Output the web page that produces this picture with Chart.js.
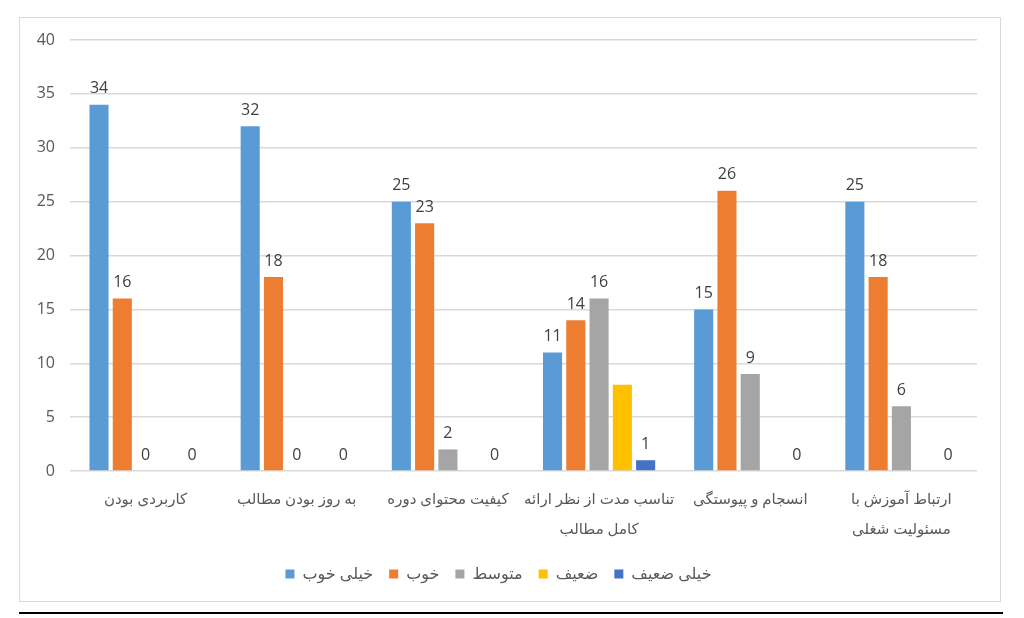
<!DOCTYPE html>
<html>
<head>
<meta charset="utf-8">
<script src="https://cdn.jsdelivr.net/npm/chart.js@4/dist/chart.umd.min.js"></script>
<style>
  html, body { margin: 0; padding: 0; background: #ffffff; }
  #wrap { position: relative; width: 1024px; height: 618px; }
</style>
</head>
<body>
<div id="wrap"><canvas id="surveyChart"></canvas></div>
<script>
const categories = [
    'کاربردی بودن',
    'به روز بودن مطالب',
    'کیفیت محتوای دوره',
    ['تناسب مدت از نظر ارائه', 'کامل مطالب'],
    'انسجام و پیوستگی',
    ['ارتباط آموزش با', 'مسئولیت شغلی']
];
const seriesNames = ['خیلی خوب', 'خوب', 'متوسط', 'ضعیف', 'خیلی ضعیف'];
const veryGood = [34, 32, 25, 11, 15, 25];
const good = [16, 18, 23, 14, 26, 18];
const average = [0, 0, 2, 16, 9, 6];
const weak = [null, null, null, 8, null, null];
const veryWeak = [0, 0, 0, 1, 0, 0];
const yTicks = [0, 5, 10, 15, 20, 25, 30, 35, 40];

const colors = ['#5B9BD5', '#ED7D31', '#A5A5A5', '#FFC000', '#4472C4'];
const FONT = "'Open Sans', 'Noto Sans', 'DejaVu Sans', sans-serif";

// frame around the chart and the rule under it
const framePlugin = {
    id: 'frame',
    beforeDraw(chart) {
        const c = chart.ctx;
        c.save();
        c.fillStyle = '#ffffff';
        c.fillRect(0, 0, chart.width, chart.height);
        c.strokeStyle = '#d9d9d9';
        c.lineWidth = 1;
        c.strokeRect(19.5, 17.5, 981, 584);
        c.strokeStyle = '#000000';
        c.lineWidth = 2;
        c.beginPath();
        c.moveTo(19, 613);
        c.lineTo(1003, 613);
        c.stroke();
        c.restore();
    }
};

// value labels above bars (none for the yellow series, like the original)
const valueLabels = {
    id: 'valueLabels',
    afterDatasetsDraw(chart) {
        const c = chart.ctx;
        c.save();
        c.font = '16px ' + FONT;
        c.fillStyle = '#404040';
        c.textAlign = 'center';
        c.textBaseline = 'bottom';
        chart.data.datasets.forEach((ds, i) => {
            if (i === 3) return;
            const meta = chart.getDatasetMeta(i);
            meta.data.forEach((bar, j) => {
                const v = ds.data[j];
                if (v === null || v === undefined) return;
                c.fillText(String(v), bar.x, bar.y - 8);
            });
        });
        c.restore();
    }
};

const ctx = document.getElementById('surveyChart').getContext('2d');
const surveyChart = new Chart(ctx, {
    type: 'bar',
    data: {
        labels: categories,
        datasets: [veryGood, good, average, weak, veryWeak].map((d, i) => ({
            label: seriesNames[i],
            data: d,
            backgroundColor: colors[i],
            borderWidth: 0,
            categoryPercentage: 0.77,
            barPercentage: 0.82
        }))
    },
    options: {
        responsive: true,
        maintainAspectRatio: false,
        animation: false,
        devicePixelRatio: 1,
        layout: {
            padding: { left: 20, right: 47, top: 40, bottom: 26 }
        },
        scales: {
            y: {
                min: 0,
                max: 40,
                afterBuildTicks: function(axis) {
                    axis.ticks = yTicks.map(v => ({ value: v }));
                },
                afterFit: function(axis) { axis.width = 50; },
                border: { display: false },
                grid: { color: '#d9d9d9', lineWidth: 1.5, drawTicks: false },
                ticks: {
                    color: '#595959',
                    padding: 15,
                    font: { family: FONT, size: 16 }
                }
            },
            x: {
                afterFit: function(axis) { axis.height = 79; },
                border: { display: false },
                grid: { display: false, drawTicks: false },
                ticks: {
                    color: '#595959',
                    padding: 13,
                    maxRotation: 0,
                    autoSkip: false,
                    font: { family: FONT, size: 15, lineHeight: 2.05 }
                }
            }
        },
        plugins: {
            legend: {
                position: 'bottom',
                labels: {
                    color: '#595959',
                    boxWidth: 9,
                    boxHeight: 9,
                    padding: 16,
                    font: { family: FONT, size: 16 }
                }
            },
            tooltip: { enabled: false }
        }
    },
    plugins: [framePlugin, valueLabels]
});
</script>
</body>
</html>
